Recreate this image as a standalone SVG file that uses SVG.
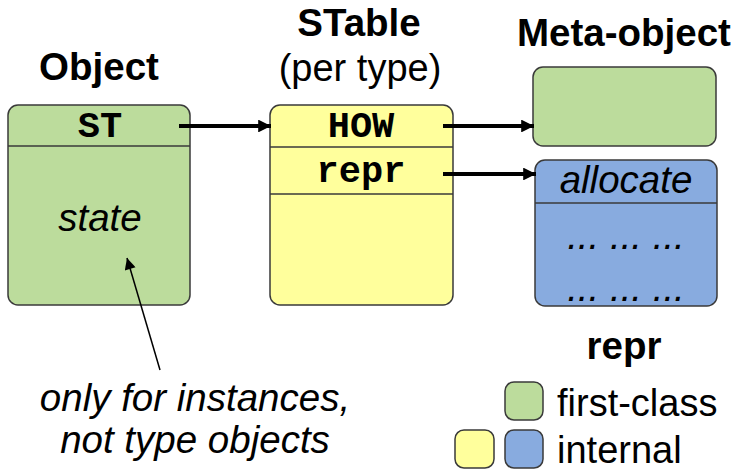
<svg xmlns="http://www.w3.org/2000/svg" width="734" height="470" viewBox="0 0 734 470">
<defs>
<style>
.box{stroke:#3a3a3a;stroke-width:1.5}
.g{fill:#bcdc9c}.y{fill:#ffff9c}.b{fill:#88abdf}
.div{stroke:#3a3a3a;stroke-width:1.5}
.h{font-family:"Liberation Sans",Arial,sans-serif;font-weight:bold;font-size:38.5px;fill:#000;text-anchor:middle}
.t{font-family:"Liberation Sans",Arial,sans-serif;font-size:38px;fill:#000;text-anchor:middle}
.i{font-family:"Liberation Sans",Arial,sans-serif;font-style:italic;font-size:38.5px;fill:#000;text-anchor:middle}
.m{font-family:"Liberation Mono","Courier New",monospace;font-weight:bold;font-size:37px;fill:#000;text-anchor:middle}
.c{stroke:#000;stroke-width:4;fill:none}
.thin{stroke:#000;stroke-width:1.5;fill:none}
</style>
<marker id="ah" viewBox="0 0 10 10" refX="10" refY="5" markerWidth="4.2" markerHeight="3.2" markerUnits="strokeWidth" orient="auto">
<path d="M0,0 L10,5 L0,10 z" fill="#000"/>
</marker>
<marker id="ah2" viewBox="0 0 10 10" refX="10" refY="5" markerWidth="9" markerHeight="7.5" markerUnits="strokeWidth" orient="auto">
<path d="M0,0 L10,5 L0,10 z" fill="#000"/>
</marker>
</defs>
<rect width="734" height="470" fill="#fff"/>
<g id="object">
<text class="h" x="99" y="80">Object</text>
<rect class="box g" x="8" y="105" width="182" height="200" rx="10"/>
<line class="div" x1="8" y1="146" x2="190" y2="146"/>
<text class="m" x="100" y="137">ST</text>
<text class="i" x="100" y="231">state</text>
</g>
<g id="stable">
<text class="h" x="359" y="36">STable</text>
<text class="t" x="360" y="81">(per type)</text>
<rect class="box y" x="270" y="105" width="183" height="200" rx="10"/>
<line class="div" x1="270" y1="147" x2="453" y2="147"/>
<line class="div" x1="270" y1="194" x2="453" y2="194"/>
<text class="m" x="361" y="137">HOW</text>
<text class="m" x="361" y="182">repr</text>
</g>
<g id="metaobject">
<text class="h" x="624" y="46">Meta-object</text>
<rect class="box g" x="533" y="67" width="183" height="79" rx="10"/>
</g>
<g id="repr">
<rect class="box b" x="535" y="160" width="182" height="146" rx="10"/>
<line class="div" x1="535" y1="203" x2="717" y2="203"/>
<text class="i" x="626" y="193">allocate</text>
<text class="i" x="626" y="249">... ... ...</text>
<text class="i" x="626" y="301">... ... ...</text>
<text class="h" x="624" y="359">repr</text>
</g>
<g id="note">
<text class="i" x="195" y="411">only for instances,</text>
<text class="i" x="195" y="453">not type objects</text>
</g>
<g id="legend">
<rect class="box g" x="505" y="382" width="38" height="38" rx="9"/>
<rect class="box y" x="455" y="430" width="39" height="38" rx="9"/>
<rect class="box b" x="505" y="430" width="38" height="38" rx="9"/>
<text class="t" x="557" y="416" style="text-anchor:start">first-class</text>
<text class="t" x="557" y="463" style="text-anchor:start">internal</text>
</g>
<g id="connectors">
<line class="c" x1="179" y1="126" x2="271" y2="126" marker-end="url(#ah)"/>
<line class="c" x1="443" y1="126" x2="534" y2="126" marker-end="url(#ah)"/>
<line class="c" x1="443" y1="174" x2="536" y2="174" marker-end="url(#ah)"/>
<line class="thin" x1="160" y1="370" x2="127" y2="258" marker-end="url(#ah2)"/>
</g>
</svg>
